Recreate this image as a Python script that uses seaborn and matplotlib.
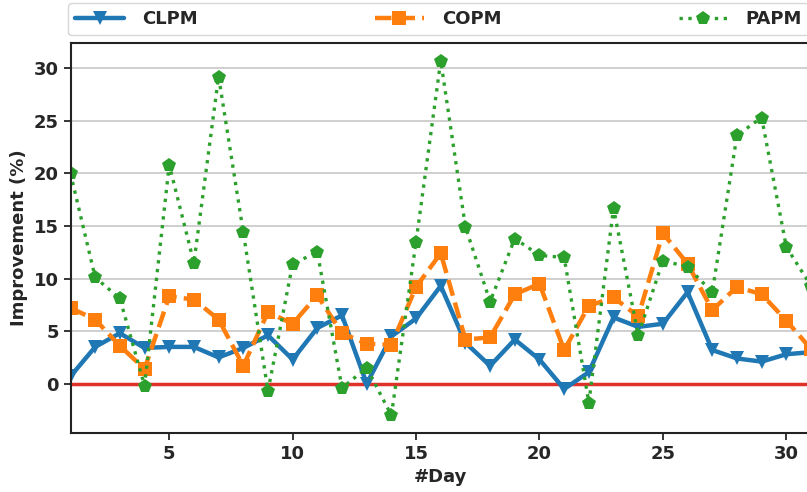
import matplotlib
matplotlib.use("Agg")
import matplotlib.pyplot as plt
import numpy as np
import seaborn as sns

days = np.arange(1, 32)
clpm = [0.7, 3.5, 4.8, 3.4, 3.5, 3.5, 2.5, 3.4, 4.6, 2.3, 5.3,
        6.5, 0.0, 4.5, 6.2, 9.3, 3.9, 1.7, 4.2, 2.3, -0.5, 1.1,
        6.3, 5.4, 5.7, 8.7, 3.2, 2.4, 2.1, 2.8, 3.0]
copm = [7.2, 6.1, 3.6, 1.4, 8.3, 8.0, 6.1, 1.7, 6.8, 5.7, 8.4,
        4.8, 3.8, 3.7, 9.2, 12.4, 4.2, 4.4, 8.5, 9.5, 3.2, 7.4,
        8.2, 6.4, 14.3, 11.4, 7.0, 9.2, 8.5, 6.0, 3.3]
papm = [20.0, 10.1, 8.1, -0.2, 20.8, 11.5, 29.2, 14.4, -0.7, 11.4, 12.5,
        -0.4, 1.5, -3.0, 13.5, 30.7, 14.9, 7.8, 13.8, 12.2, 12.0, -1.8,
        16.7, 4.6, 11.7, 11.1, 8.7, 23.6, 25.3, 13.0, 9.3]
series = [("CLPM", clpm, "v", "-"), ("COPM", copm, "s", "--"), ("PAPM", papm, "p", ":")]
colors = sns.color_palette("tab10")

sns.set_style("ticks")
plt.rcParams["font.family"] = ["DejaVu Sans"]
plt.rcParams["font.weight"] = "bold"
plt.rcParams["axes.labelweight"] = "bold"
plt.rcParams["font.size"] = 13

fig = plt.figure(figsize=(8.07, 4.92), dpi=100)
ax = fig.add_axes([70.5 / 807, 59 / 492, 740.5 / 807, 390 / 492])

for i, (name, vals, mk, ls) in enumerate(series):
    lw = 2.4 if ls == ":" else 3.2
    sns.lineplot(x=days, y=vals, ax=ax, color=colors[i], marker=mk,
                 linestyle=ls, linewidth=lw, markersize=10,
                 markeredgewidth=0, label=name)

ax.axhline(0, color="#e0302a", linewidth=2.5, zorder=1)
ax.set_xlim(1, 31)
ax.set_xticks([5, 10, 15, 20, 25, 30])
ax.set_yticks([0, 5, 10, 15, 20, 25, 30])
ax.yaxis.grid(True, color="#cccccc", linewidth=1.3)
ax.set_axisbelow(True)
ax.set_xlabel("#Day", fontsize=13)
ax.set_ylabel("Improvement (%)", fontsize=13)
ax.tick_params(labelsize=13, width=1.3, length=5)
for s in ax.spines.values():
    s.set_linewidth(1.5)
    s.set_color("#222222")

handles, labels = ax.get_legend_handles_labels()
ax.legend(handles, labels, ncol=3, mode="expand", loc="upper left",
          bbox_to_anchor=(68 / 807, 0, 741 / 807, 1 - 3 / 492),
          bbox_transform=fig.transFigure, borderaxespad=0,
          handlelength=2.7, handletextpad=1.0, numpoints=1, fontsize=13)

fig.savefig("out.png", dpi=100)
